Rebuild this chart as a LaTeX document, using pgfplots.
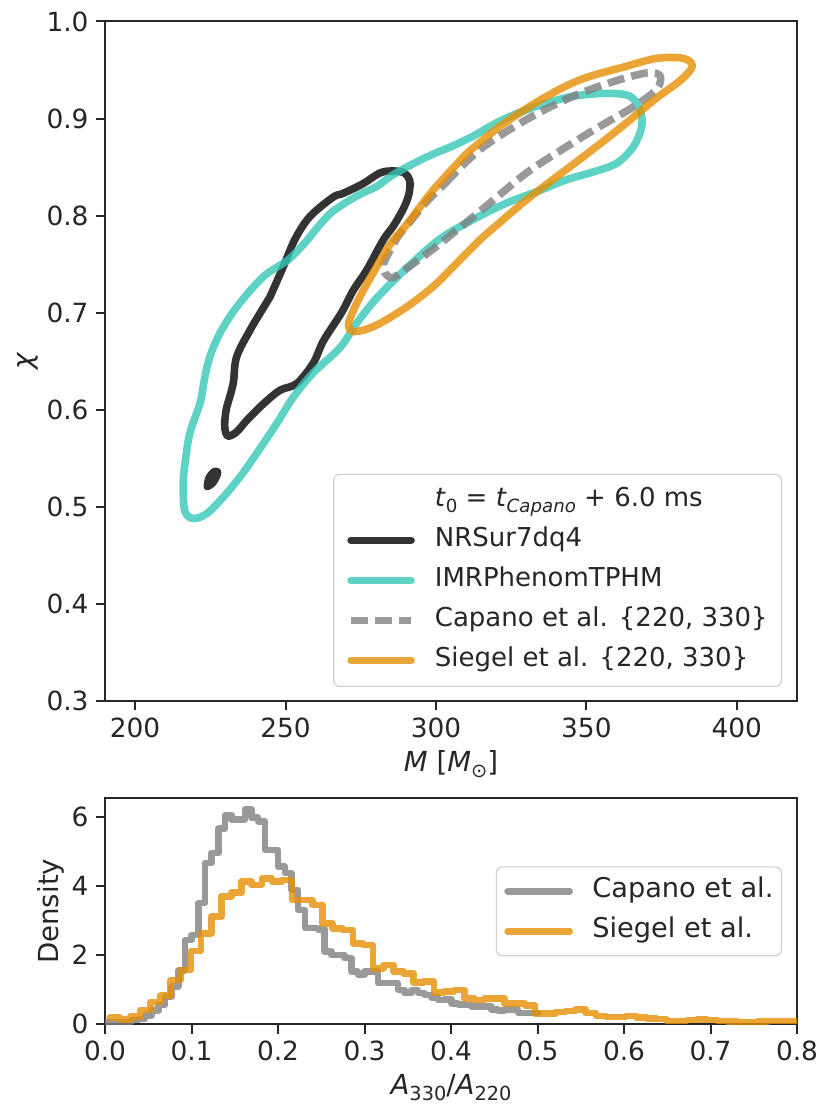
\documentclass[border=0pt]{standalone}
\usepackage{fontspec}
\setmainfont{DejaVu Sans}
\usepackage{graphicx}
\usepackage{pgfplots}
\pgfplotsset{compat=1.18}
\definecolor{txt}{HTML}{262626}
\definecolor{cnr}{HTML}{000000}
\definecolor{cimr}{HTML}{36C8B7}
\definecolor{ccap}{HTML}{808080}
\definecolor{csie}{HTML}{E68F05}
\definecolor{lgd}{HTML}{D0D0D0}
\newcommand{\sub}[1]{\raisebox{-0.22em}{\scalebox{0.7}{#1}}}
\pgfplotsset{
  myaxis/.style={
    scale only axis, anchor=south west,
    tick align=outside, tick pos=left, major tick length=4.7pt,
    major tick style={txt, line width=1pt},
    axis line style={txt, line width=1pt},
    ticklabel style={font=\fontsize{13.2}{15}\selectfont, text=txt},
    /pgf/number format/assume math mode=true,
    label style={font=\fontsize{13.8}{16}\selectfont, text=txt},
    legend cell align=left,
  },
  cont/.style={line width=3.8pt, opacity=0.8, line cap=round, line join=round, smooth, tension=0.55},
  hist/.style={line width=3.3pt, opacity=0.8, line cap=round, line join=round, const plot},
}
\begin{document}
\begin{tikzpicture}
\useasboundingbox (0,0) rectangle (415pt,556.5pt);
% ---------------- top panel ----------------
\begin{axis}[myaxis,
  at={(52.5pt,206pt)}, width=346pt, height=339.75pt,
  xmin=190, xmax=420, ymin=0.3, ymax=1.0,
  xtick={200,250,300,350,400},
  ytick={0.3,0.4,0.5,0.6,0.7,0.8,0.9,1.0},
  yticklabel style={/pgf/number format/.cd, fixed, fixed zerofill, precision=1},
  xlabel={\textit{M} [\textit{M}\sub{⊙}]},
  ylabel={\textit{χ}},
  xlabel style={at={(axis description cs:0.5,-0.1039)}, anchor=base},
  ylabel style={at={(axis description cs:-0.112,0.5)}, anchor=center},
  legend image code/.code={\draw[#1] (0pt,0pt) -- (30pt,0pt);},
  legend style={at={(axis description cs:1,0)}, anchor=south east, xshift=-7.5pt, yshift=7pt,
    draw=lgd, line width=0.6pt, fill=white, rounded corners=3pt,
    font=\fontsize{13}{15}\selectfont, text=txt,
    inner xsep=6.8pt, inner ysep=6.5pt, row sep=7pt,
    nodes={inner sep=0pt, text height=9.7pt, text depth=3.3pt},
    /tikz/every odd column/.append style={column sep=10pt}},
]
\addlegendimage{empty legend}
\addlegendentry{\textit{t}\sub{0} = \textit{t}\sub{\textit{Capano}} + 6.0 ms}
% NRSur7dq4
\addplot[cont, color=cnr] coordinates {
(244.8,0.716) (249.2,0.747) (253.2,0.776) (258.1,0.799) (265.8,0.819) (269.2,0.823) (275.8,0.833)
(281.4,0.844) (285.8,0.846) (289.5,0.844) (291.3,0.836) (291.0,0.822) (289.3,0.808) (286.0,0.790)
(282.5,0.775) (277.0,0.744) (272.5,0.723) (268.6,0.700) (262.6,0.671) (259.2,0.648) (253.7,0.627)
(248.1,0.620) (242.6,0.606) (237.1,0.589) (233.7,0.577) (230.8,0.573) (229.8,0.582) (230.0,0.594)
(230.5,0.603) (232.6,0.627) (233.7,0.654) (238.2,0.682) (244.8,0.716)};
\addlegendentry{NRSur7dq4}
\addplot[cont, color=cnr, forget plot] coordinates {
(224.0,0.521) (225.6,0.524) (227.0,0.531) (227.4,0.536) (226.2,0.536) (224.6,0.530) (224.0,0.521)};
% IMRPhenomTPHM
\addplot[cont, color=cimr] coordinates {
(258.1,0.778) (264.8,0.802) (273.6,0.820) (280.3,0.830) (284.7,0.840) (290.3,0.850) (298.0,0.862)
(305.0,0.871) (312.4,0.882) (321.0,0.897) (330.1,0.909) (338.0,0.917) (345.6,0.923) (356.7,0.926)
(364.5,0.923) (367.8,0.909) (368.4,0.892) (365.6,0.871) (360.1,0.854) (352.3,0.845) (343.4,0.837)
(334.6,0.826) (323.5,0.813) (312.4,0.796) (301.3,0.776) (290.3,0.746) (280.3,0.715) (273.6,0.689)
(268.1,0.664) (259.2,0.638) (252.6,0.613) (247.1,0.586) (240.4,0.555) (234.9,0.531) (229.3,0.510)
(223.8,0.493) (219.3,0.488) (216.5,0.496) (216.0,0.524) (216.6,0.545) (218.2,0.576)
(221.6,0.607) (223.2,0.634) (224.9,0.655) (228.2,0.679) (233.8,0.706) (242.6,0.737) (251.5,0.756)
(258.1,0.778)};
\addlegendentry{IMRPhenomTPHM}
% Capano
\addplot[cont, color=ccap, line cap=butt, dash pattern=on 8.5pt off 3.6pt] coordinates {
(303.0,0.833) (314.6,0.868) (330.1,0.899) (345.6,0.923) (358.9,0.938) (370.0,0.947) (374.5,0.944)
(373.3,0.930) (365.6,0.912) (354.5,0.892) (343.4,0.871) (330.1,0.844) (316.0,0.808) (301.3,0.771)
(293.6,0.753) (289.0,0.743) (285.5,0.736) (283.0,0.741) (282.6,0.750) (284.2,0.761) (287.5,0.779)
(292.0,0.796) (296.5,0.813) (303.0,0.833)};
\addlegendentry{Capano et al. \{220, 330\}}
% Siegel
\addplot[cont, color=csie] coordinates {
(310.2,0.864) (321.3,0.892) (334.6,0.919) (347.9,0.940) (362.3,0.953) (373.3,0.962) (382.2,0.962)
(385.2,0.954) (381.5,0.940) (373.3,0.921) (362.3,0.893) (351.2,0.866) (340.1,0.840) (330.0,0.816)
(322.0,0.795) (314.6,0.775) (306.9,0.751) (299.1,0.727) (290.3,0.706) (281.4,0.689) (275.8,0.682)
(272.0,0.681) (270.9,0.688) (272.5,0.702) (275.5,0.721) (279.5,0.743) (284.7,0.770) (290.3,0.791)
(295.0,0.810) (299.8,0.829) (310.2,0.864)};
\addlegendentry{Siegel et al. \{220, 330\}}
\end{axis}
% ---------------- bottom panel ----------------
\begin{axis}[myaxis,
  at={(52.5pt,44.35pt)}, width=346pt, height=113pt,
  xmin=0, xmax=0.8, ymin=0, ymax=6.53,
  xtick={0,0.1,0.2,0.3,0.4,0.5,0.6,0.7,0.8},
  ytick={0,2,4,6},
  xticklabel style={/pgf/number format/.cd, fixed, fixed zerofill, precision=1},
  xlabel={\textit{A}\sub{330}/\textit{A}\sub{220}},
  ylabel={Density},
  xlabel style={at={(axis description cs:0.5,-0.3124)}, anchor=base},
  ylabel style={at={(axis description cs:-0.0788,0.5)}, anchor=center},
  legend image code/.code={\draw[#1] (0pt,0pt) -- (31pt,0pt);},
  legend style={at={(axis description cs:1,0.5)}, anchor=east, xshift=-7.5pt,
    draw=lgd, line width=0.6pt, fill=white, rounded corners=3pt,
    font=\fontsize{13.6}{16}\selectfont, text=txt,
    inner xsep=4pt, inner ysep=5.2pt, row sep=6pt,
    nodes={inner sep=0pt, text height=10pt, text depth=4pt},
    /tikz/every odd column/.append style={column sep=9.7pt}},
]
\addplot[hist, color=ccap] coordinates {
(0,0.06) (0.0077,0.06) (0.0154,0.07) (0.0231,0.07) (0.0308,0.12) (0.0385,0.15) (0.0462,0.25)
(0.0539,0.40) (0.0616,0.56) (0.0693,0.80) (0.0770,1.10) (0.0847,1.56) (0.0924,2.43) (0.1001,2.58)
(0.1078,3.50) (0.1155,4.66) (0.1232,4.95) (0.1309,5.65) (0.1386,6.05) (0.1463,5.92) (0.1540,5.92)
(0.1617,6.20) (0.1694,5.97) (0.1771,5.86) (0.1848,5.04) (0.1925,5.04) (0.2002,4.56) (0.2079,4.37)
(0.2156,3.88) (0.2233,3.30) (0.2310,2.78) (0.2387,2.78) (0.2464,2.74) (0.2541,2.10) (0.2618,2.00)
(0.2695,2.00) (0.2772,1.91) (0.2849,1.52) (0.2926,1.42) (0.3003,1.52) (0.3080,1.52) (0.3157,1.19)
(0.3234,1.19) (0.3311,1.19) (0.3388,0.99) (0.3465,0.90) (0.3542,0.99) (0.3619,0.90) (0.3696,0.85)
(0.3773,0.78) (0.3850,0.70) (0.3927,0.72) (0.4004,0.60) (0.4081,0.58) (0.4158,0.56) (0.4235,0.52)
(0.4312,0.52) (0.4389,0.52) (0.4466,0.42) (0.4543,0.40) (0.4620,0.42) (0.4697,0.42) (0.4774,0.33)
(0.4851,0.33) (0.4928,0.33) (0.5005,0.33)};
\addlegendentry{Capano et al.}
\addplot[hist, color=csie] coordinates {
(0.0058,0.20) (0.0175,0.13) (0.0292,0.23) (0.0409,0.41) (0.0526,0.65) (0.0643,0.84) (0.0760,1.28)
(0.0877,1.57) (0.0994,2.12) (0.1111,2.63) (0.1228,3.11) (0.1345,3.69) (0.1462,3.80) (0.1579,4.12)
(0.1696,4.03) (0.1813,4.22) (0.1930,4.12) (0.2047,4.17) (0.2164,3.59) (0.2281,3.59) (0.2398,3.45)
(0.2515,2.92) (0.2632,2.77) (0.2749,2.72) (0.2866,2.34) (0.2983,2.29) (0.3100,1.61) (0.3217,1.71)
(0.3334,1.52) (0.3451,1.47) (0.3568,1.20) (0.3685,1.23) (0.3802,0.92) (0.3919,0.94) (0.4036,0.99)
(0.4153,0.74) (0.4270,0.70) (0.4387,0.74) (0.4504,0.74) (0.4621,0.60) (0.4738,0.60) (0.4855,0.55)
(0.4972,0.31) (0.5089,0.31) (0.5206,0.36) (0.5323,0.38) (0.5440,0.43) (0.5557,0.33) (0.5674,0.24)
(0.5791,0.21) (0.5908,0.21) (0.6025,0.24) (0.6142,0.20) (0.6259,0.16) (0.6376,0.15) (0.6493,0.10)
(0.6610,0.10) (0.6727,0.12) (0.6844,0.14) (0.6961,0.12) (0.7078,0.10) (0.7195,0.08) (0.7312,0.07)
(0.7429,0.07) (0.7546,0.08) (0.7663,0.09) (0.7780,0.09) (0.7897,0.09) (0.8014,0.09)};
\addlegendentry{Siegel et al.}
\end{axis}
\end{tikzpicture}
\end{document}
